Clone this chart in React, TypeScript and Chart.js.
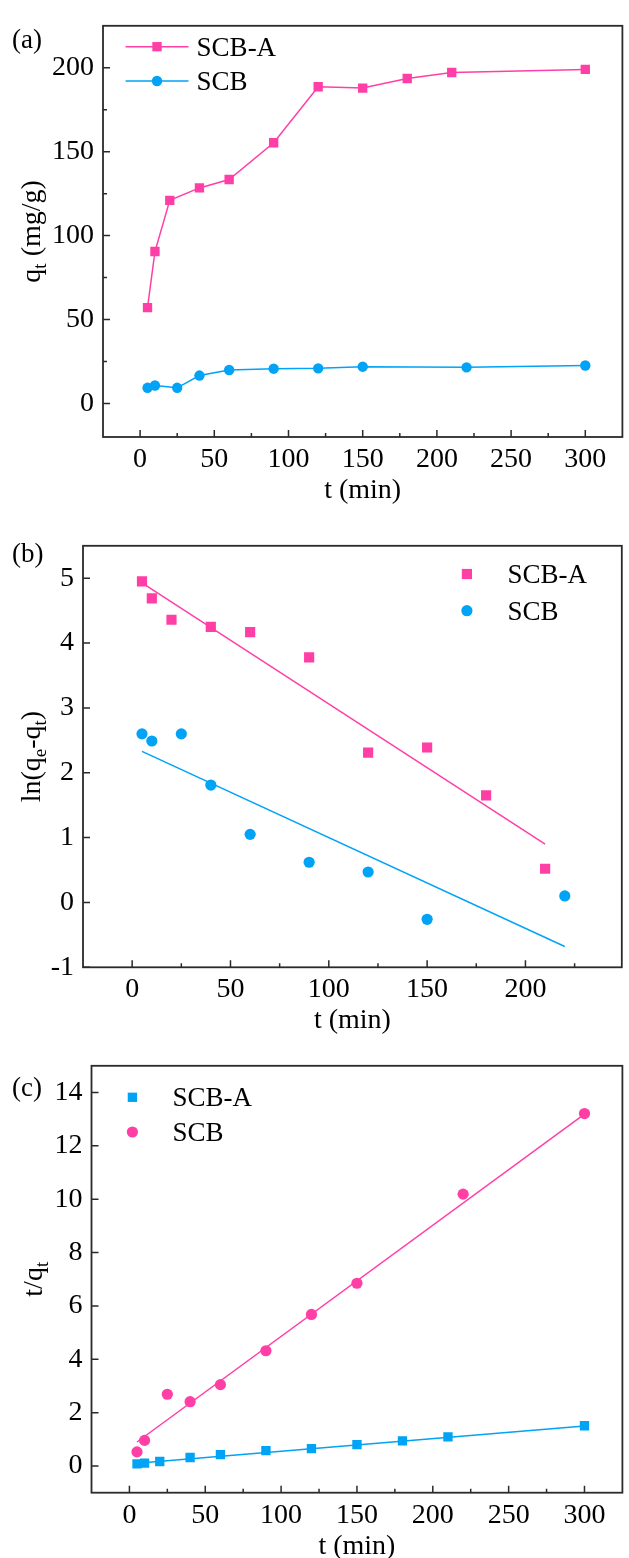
import React, { useEffect, useRef } from 'react';
import { Chart, registerables } from 'chart.js';

Chart.register(...registerables);

const PINK = '#FF3FA6';
const BLUE = '#00A3F5';
const AXIS = '#2a2a2a';
const FONT = "'Liberation Serif', 'Times New Roman', serif";
const W = 629;

// ---------- Panel (a): q_t vs t ----------
const aTimeA = [5, 10, 20, 40, 60, 90, 120, 150, 180, 210, 300];
const aQtA = [57.1, 90.5, 121, 128.4, 133.4, 155.3, 188.7, 187.9, 193.6, 197.2, 199];
const aTimeB = [5, 10, 25, 40, 60, 90, 120, 150, 220, 300];
const aQtB = [9.3, 10.7, 9.3, 16.6, 19.9, 20.7, 20.9, 21.9, 21.5, 22.6];
const aXTicks = [0, 50, 100, 150, 200, 250, 300];
const aXMinor = [25, 75, 125, 175, 225, 275];
const aYTicks = [0, 50, 100, 150, 200];
const aYMinor = [25, 75, 125, 175];

// ---------- Panel (b): ln(qe-qt) vs t ----------
const bTimeA = [5, 10, 20, 40, 60, 90, 120, 150, 180, 210];
const bLnA = [4.95, 4.69, 4.36, 4.25, 4.17, 3.78, 2.31, 2.39, 1.65, 0.52];
const bTimeB = [5, 10, 25, 40, 60, 90, 120, 150, 220];
const bLnB = [2.6, 2.49, 2.6, 1.81, 1.05, 0.62, 0.47, -0.26, 0.1];
const bFitTimeA = [5, 210];
const bFitA = [4.93, 0.9];
const bFitTimeB = [5, 220];
const bFitB = [2.33, -0.68];
const bXTicks = [0, 50, 100, 150, 200];
const bXMinor = [25, 75, 125, 175, 225];
const bYTicks = [-1, 0, 1, 2, 3, 4, 5];
const bYMinor: number[] = [];

// ---------- Panel (c): t/q_t vs t ----------
const cTimeA = [5, 10, 20, 40, 60, 90, 120, 150, 180, 210, 300];
const cRatioA = [0.08, 0.11, 0.17, 0.32, 0.43, 0.58, 0.65, 0.8, 0.94, 1.09, 1.51];
const cTimeB = [5, 10, 25, 40, 60, 90, 120, 150, 220, 300];
const cRatioB = [0.53, 0.96, 2.69, 2.41, 3.05, 4.32, 5.68, 6.85, 10.19, 13.21];
const cFitTime = [5, 300];
const cFitA = [0.1, 1.5];
const cFitB = [0.9, 13.19];
const cXTicks = [0, 50, 100, 150, 200, 250, 300];
const cXMinor = [25, 75, 125, 175, 225, 275];
const cYTicks = [0, 2, 4, 6, 8, 10, 12, 14];
const cYMinor: number[] = [];

const pts = (xs: number[], ys: number[]) => xs.map((x, i) => ({ x, y: ys[i] }));

type Part = { t: string; sub?: boolean };
interface Deco {
  label: string;
  labelY: number;
  yTitle: Part[];
  yTitleX: number;
  xTitle: string;
  xMajor: number[];
  xMinor: number[];
  yMajor: number[];
  yMinor: number[];
  legendRows: number[];
  legendDs: number[];
  legendMarkerX: number;
  legendLine: [number, number] | null;
  legendTextX: number;
}

interface Spec {
  top: number;
  height: number;
  area: { left: number; top: number; right: number; bottom: number };
  xMin: number;
  xMax: number;
  yMin: number;
  yMax: number;
  datasets: any[];
  deco: Deco;
}

function drawMarker(ctx: CanvasRenderingContext2D, style: string, x: number, y: number, r: number, color: string) {
  ctx.fillStyle = color;
  ctx.beginPath();
  if (style === 'rect') {
    const s = r * Math.SQRT1_2;
    ctx.rect(x - s, y - s, 2 * s, 2 * s);
  } else {
    ctx.arc(x, y, r, 0, Math.PI * 2);
  }
  ctx.fill();
}

function drawRich(ctx: CanvasRenderingContext2D, parts: Part[], x: number, y: number) {
  ctx.save();
  ctx.translate(x, y);
  ctx.rotate(-Math.PI / 2);
  ctx.textAlign = 'left';
  ctx.textBaseline = 'alphabetic';
  const main = `28px ${FONT}`;
  const sub = `19px ${FONT}`;
  let total = 0;
  const widths = parts.map((p) => {
    ctx.font = p.sub ? sub : main;
    const w = ctx.measureText(p.t).width;
    total += w;
    return w;
  });
  let cx = -total / 2;
  parts.forEach((p, i) => {
    ctx.font = p.sub ? sub : main;
    ctx.fillText(p.t, cx, p.sub ? 15 : 9);
    cx += widths[i];
  });
  ctx.restore();
}

function decoPlugin(d: Deco) {
  return {
    id: 'deco',
    afterDraw(chart: any) {
      const ctx: CanvasRenderingContext2D = chart.ctx;
      const a = chart.chartArea;
      const xs = chart.scales.x;
      const ys = chart.scales.y;
      ctx.save();
      ctx.strokeStyle = AXIS;
      ctx.lineWidth = 1.5;
      ctx.beginPath();
      const xt = (v: number, len: number) => {
        const p = xs.getPixelForValue(v);
        ctx.moveTo(p, a.bottom);
        ctx.lineTo(p, a.bottom - len);
      };
      const yt = (v: number, len: number) => {
        const p = ys.getPixelForValue(v);
        ctx.moveTo(a.left, p);
        ctx.lineTo(a.left + len, p);
      };
      d.xMajor.forEach((v) => xt(v, 7));
      d.xMinor.forEach((v) => xt(v, 4));
      d.yMajor.forEach((v) => yt(v, 7));
      d.yMinor.forEach((v) => yt(v, 4));
      ctx.stroke();
      ctx.lineWidth = 1.8;
      ctx.strokeRect(a.left, a.top, a.right - a.left, a.bottom - a.top);

      ctx.fillStyle = '#000';
      ctx.font = `27px ${FONT}`;
      ctx.textAlign = 'left';
      ctx.textBaseline = 'alphabetic';
      ctx.fillText(d.label, 12, d.labelY + 9);

      ctx.font = `28px ${FONT}`;
      ctx.textAlign = 'center';
      ctx.fillText(d.xTitle, (a.left + a.right) / 2, a.bottom + 52 + 9);

      drawRich(ctx, d.yTitle, d.yTitleX, (a.top + a.bottom) / 2);

      d.legendDs.forEach((dsi, i) => {
        const ds = chart.data.datasets[dsi];
        const y = d.legendRows[i];
        if (d.legendLine) {
          ctx.strokeStyle = ds.borderColor;
          ctx.lineWidth = ds.borderWidth || 1.5;
          ctx.beginPath();
          ctx.moveTo(d.legendLine[0], y);
          ctx.lineTo(d.legendLine[1], y);
          ctx.stroke();
        }
        drawMarker(ctx, ds.pointStyle, d.legendMarkerX, y, ds.pointRadius, ds.backgroundColor);
        ctx.fillStyle = '#000';
        ctx.font = `27px ${FONT}`;
        ctx.textAlign = 'left';
        ctx.fillText(ds.label, d.legendTextX, y + 9);
      });
      ctx.restore();
    },
  };
}

function markerSet(label: string, data: any[], color: string, style: string, r: number, line: boolean) {
  return {
    label,
    data,
    showLine: line,
    borderColor: color,
    backgroundColor: color,
    borderWidth: 1.5,
    pointStyle: style,
    pointRadius: r,
    pointBorderWidth: 0,
    pointBackgroundColor: color,
  };
}

function fitSet(data: any[], color: string) {
  return {
    label: '',
    data,
    showLine: true,
    borderColor: color,
    backgroundColor: color,
    borderWidth: 1.5,
    pointRadius: 0,
  };
}

const specA: Spec = {
  top: 0,
  height: 520,
  area: { left: 103, top: 14.3, right: 628, bottom: 437 },
  xMin: -25,
  xMax: 325,
  yMin: -20,
  yMax: 225,
  datasets: [
    markerSet('SCB-A', pts(aTimeA, aQtA), PINK, 'rect', 6.6, true),
    markerSet('SCB', pts(aTimeB, aQtB), BLUE, 'circle', 5.2, true),
  ],
  deco: {
    label: '(a)',
    labelY: 39,
    yTitle: [{ t: 'q' }, { t: 't', sub: true }, { t: ' (mg/g)' }],
    yTitleX: 31,
    xTitle: 't (min)',
    xMajor: aXTicks,
    xMinor: aXMinor,
    yMajor: aYTicks,
    yMinor: aYMinor,
    legendRows: [46.7, 81],
    legendDs: [0, 1],
    legendMarkerX: 157,
    legendLine: [125.6, 188.5],
    legendTextX: 196.6,
  },
};

const specB: Spec = {
  top: 520,
  height: 520,
  area: { left: 83, top: 9.3, right: 628, bottom: 447.3 },
  xMin: -25,
  xMax: 249,
  yMin: -1,
  yMax: 5.5,
  datasets: [
    markerSet('SCB-A', pts(bTimeA, bLnA), PINK, 'rect', 7.2, false),
    markerSet('SCB', pts(bTimeB, bLnB), BLUE, 'circle', 5.6, false),
    fitSet(pts(bFitTimeA, bFitA), PINK),
    fitSet(pts(bFitTimeB, bFitB), BLUE),
  ],
  deco: {
    label: '(b)',
    labelY: 33,
    yTitle: [{ t: 'ln(q' }, { t: 'e', sub: true }, { t: '-q' }, { t: 't', sub: true }, { t: ')' }],
    yTitleX: 31,
    xTitle: 't (min)',
    xMajor: bXTicks,
    xMinor: bXMinor,
    yMajor: bYTicks,
    yMinor: bYMinor,
    legendRows: [54, 90.7],
    legendDs: [0, 1],
    legendMarkerX: 466.9,
    legendLine: null,
    legendTextX: 507.5,
  },
};

const specC: Spec = {
  top: 1040,
  height: 518,
  area: { left: 91.5, top: 21, right: 628, bottom: 452.7 },
  xMin: -25,
  xMax: 325,
  yMin: -1,
  yMax: 15,
  datasets: [
    markerSet('SCB-A', pts(cTimeA, cRatioA), BLUE, 'rect', 6.6, false),
    markerSet('SCB', pts(cTimeB, cRatioB), PINK, 'circle', 5.6, false),
    fitSet(pts(cFitTime, cFitA), BLUE),
    fitSet(pts(cFitTime, cFitB), PINK),
  ],
  deco: {
    label: '(c)',
    labelY: 46.7,
    yTitle: [{ t: 't/q' }, { t: 't', sub: true }],
    yTitleX: 33,
    xTitle: 't (min)',
    xMajor: cXTicks,
    xMinor: cXMinor,
    yMajor: cYTicks,
    yMinor: cYMinor,
    legendRows: [57.3, 92],
    legendDs: [0, 1],
    legendMarkerX: 132.4,
    legendLine: null,
    legendTextX: 172.5,
  },
};

function Panel({ spec }: { spec: Spec }) {
  const ref = useRef<HTMLCanvasElement>(null);
  useEffect(() => {
    const { area, height, deco } = spec;
    const tickFont = { family: FONT, size: 28 };
    const chart = new Chart(ref.current as HTMLCanvasElement, {
      type: 'scatter',
      data: { datasets: spec.datasets },
      plugins: [decoPlugin(deco) as any],
      options: {
        animation: false,
        responsive: false,
        devicePixelRatio: 1,
        events: [],
        layout: { padding: { top: area.top, right: W - area.right, left: 0, bottom: 0 } },
        plugins: { legend: { display: false }, tooltip: { enabled: false } },
        scales: {
          x: {
            type: 'linear',
            min: spec.xMin,
            max: spec.xMax,
            grid: { display: false, drawTicks: false },
            border: { display: false },
            afterBuildTicks: (s: any) => {
              s.ticks = deco.xMajor.map((v) => ({ value: v }));
            },
            afterFit: (s: any) => {
              s.height = height - area.bottom;
            },
            ticks: {
              font: tickFont,
              color: '#000',
              padding: 6,
              autoSkip: false,
              maxRotation: 0,
              callback: (v: any) => String(v),
            },
          },
          y: {
            type: 'linear',
            min: spec.yMin,
            max: spec.yMax,
            grid: { display: false, drawTicks: false },
            border: { display: false },
            afterBuildTicks: (s: any) => {
              s.ticks = deco.yMajor.map((v) => ({ value: v }));
            },
            afterFit: (s: any) => {
              s.width = area.left;
            },
            ticks: {
              font: tickFont,
              color: '#000',
              padding: 9,
              autoSkip: false,
              callback: (v: any) => String(v),
            },
          },
        },
      } as any,
    });
    return () => chart.destroy();
  }, [spec]);
  return (
    <canvas
      ref={ref}
      width={W}
      height={spec.height}
      style={{ position: 'absolute', left: 0, top: spec.top, width: W, height: spec.height, display: 'block' }}
    />
  );
}

export default function App() {
  return (
    <div style={{ position: 'absolute', left: 0, top: 0, width: W, height: 1558, background: '#fff' }}>
      <Panel spec={specA} />
      <Panel spec={specB} />
      <Panel spec={specC} />
    </div>
  );
}
